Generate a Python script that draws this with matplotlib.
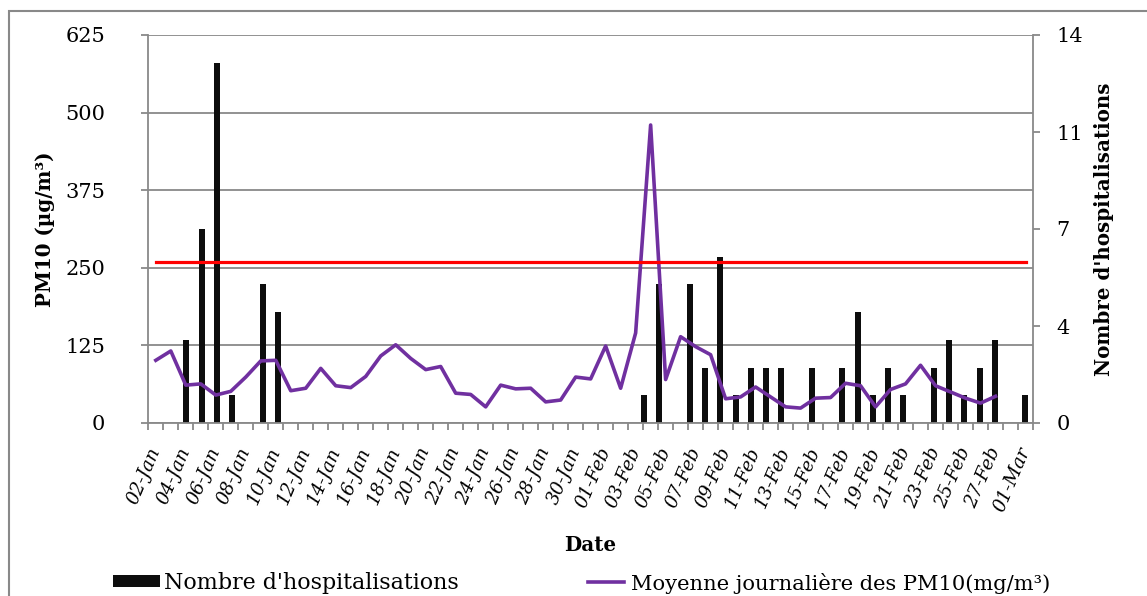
import numpy as np
import pandas as pd
import matplotlib
matplotlib.use("Agg")
import matplotlib.pyplot as plt
from matplotlib.ticker import FuncFormatter
from matplotlib.patches import Patch, Rectangle
from matplotlib.lines import Line2D

# Daily categories (02-Jan .. 01-Mar)
dates = pd.date_range("2015-01-02", "2015-03-01", freq="D")
date_labels = [d.strftime("%d-%b") for d in dates]

# Daily mean PM10 (µg/m3)
pm10 = [101, 116, 61, 63, 45, 51, 74, 100, 101, 52,
        56, 88, 60, 57, 75, 108, 126, 104, 86, 91,
        48, 46, 26, 61, 55, 56, 34, 37, 74, 71,
        124, 56, 145, 480, 70, 139, 123, 110, 39, 42,
        58, 42, 26, 24, 40, 41, 64, 60, 26, 54,
        63, 93, 60, 50, 40, 32, 43, np.nan, np.nan]

# Number of hospitalisations (secondary series)
hospitalisations = [0, 0, 3, 7, 13, 1, 0, 5, 4, 0,
                    0, 0, 0, 0, 0, 0, 0, 0, 0, 0,
                    0, 0, 0, 0, 0, 0, 0, 0, 0, 0,
                    0, 0, 1, 5, 0, 5, 2, 6, 1, 2,
                    2, 2, 0, 2, 0, 2, 4, 1, 2, 1,
                    0, 2, 3, 1, 2, 3, 0, 1]

# Threshold value for PM10
pm10_limit = 260

GRID = "#898989"
PURPLE = "#7030A0"
RED = "#FF0000"
BAR = "#0D0D0D"
FS = 15
FS_TITLE = 14.3

plt.rcParams["font.family"] = ["DejaVu Serif"]

W, H = 1147, 596
fig = plt.figure(figsize=(W / 100, H / 100), dpi=100)

# chart area border
fig.add_artist(Rectangle((9 / W, -0.1), 1.2, 1.1 - 11 / H, transform=fig.transFigure,
                         fill=False, edgecolor=GRID, lw=1.5))

L, R, T, B = 148.3, 1033, 35, 423
rect = [L / W, 1 - B / H, (R - L) / W, (B - T) / H]

ax_h = fig.add_axes(rect)   # hospitalisations (bottom layer, with gridlines)
ax = fig.add_axes(rect)     # PM10 (top layer)
ax.patch.set_visible(False)

# --- hospitalisations bars -------------------------------------------------
xh = np.arange(len(hospitalisations))
ax_h.bar(xh, hospitalisations, width=0.39, color=BAR, zorder=2)
ax_h.set_xlim(-0.5, len(hospitalisations) - 0.5)
ax_h.set_ylim(0, 14)
ax_h.yaxis.tick_right()
ax_h.yaxis.set_label_position("right")
ax_h.set_yticks(np.arange(0, 14.01, 3.5))
ax_h.yaxis.set_major_formatter(FuncFormatter(lambda v, p: f"{int(np.floor(v + 0.5))}"))
ax_h.yaxis.remove_overlapping_locs = False
ax_h.set_yticks(np.arange(0, 14.01, 14 / 5), minor=True)
ax_h.grid(axis="y", which="minor", color=GRID, lw=1.3, zorder=0)
ax_h.set_axisbelow(True)
ax_h.tick_params(axis="y", which="minor", length=0)
ax_h.tick_params(axis="y", which="major", length=5, width=1.3, color=GRID,
                 labelsize=FS, pad=12)
ax_h.set_xticks([])
for s in ("left", "top", "bottom"):
    ax_h.spines[s].set_visible(False)
ax_h.spines["right"].set_color(GRID)
ax_h.spines["right"].set_linewidth(1.3)
ax_h.set_ylabel("Nombre d'hospitalisations", fontsize=FS_TITLE, fontweight="bold")
ax_h.yaxis.set_label_coords((1094 - L) / (R - L), 0.5)

# --- PM10 lines ------------------------------------------------------------
x = np.arange(len(dates))
ax.plot(x, pm10, color=PURPLE, lw=2.6, zorder=3)
ax.plot(x, [pm10_limit] * len(x), color=RED, lw=2.3, zorder=3)
ax.set_xlim(-0.5, len(x) - 0.5)
ax.set_ylim(0, 625)
ax.set_yticks(np.arange(0, 626, 125))
ax.tick_params(axis="y", length=5, width=1.3, color=GRID, labelsize=FS, pad=26)
ax.set_xticks(x[::2])
ax.set_xticklabels(date_labels[::2], rotation=67, ha="right", va="center",
                   rotation_mode="anchor", fontstyle="italic", fontsize=13.2)
ax.set_xticks(np.arange(-0.5, len(x)), minor=True)
ax.tick_params(axis="x", which="major", length=0, pad=18)
ax.tick_params(axis="x", which="minor", length=5, width=1.3, color=GRID)
for s in ("top", "right"):
    ax.spines[s].set_visible(False)
for s in ("left", "bottom"):
    ax.spines[s].set_color(GRID)
    ax.spines[s].set_linewidth(1.3)
ax.set_ylabel("PM10 (µg/m³)", fontsize=FS_TITLE, fontweight="bold")
ax.yaxis.set_label_coords((55 - L) / (R - L), 0.5)
ax.set_xlabel("Date", fontsize=FS_TITLE, fontweight="bold")
ax.xaxis.set_label_coords(0.5, (B - 535) / (B - T))

# --- legend ------------------------------------------------------------------
fig.legend(handles=[Patch(facecolor=BAR, edgecolor="none")],
           labels=["Nombre d'hospitalisations"],
           loc="center left", bbox_to_anchor=(113 / W, 1 - 583 / H),
           frameon=False, fontsize=15.9, borderpad=0, borderaxespad=0,
           handlelength=2.15, handleheight=0.5, handletextpad=0.15)
fig.legend(handles=[Line2D([], [], color=PURPLE, lw=2.6)],
           labels=["Moyenne journalière des PM10(mg/m³)"],
           loc="center left", bbox_to_anchor=(588 / W, 1 - 583 / H),
           frameon=False, fontsize=15.1, borderpad=0, borderaxespad=0,
           handlelength=1.73, handletextpad=0.3)

fig.savefig("out.png", dpi=100)
